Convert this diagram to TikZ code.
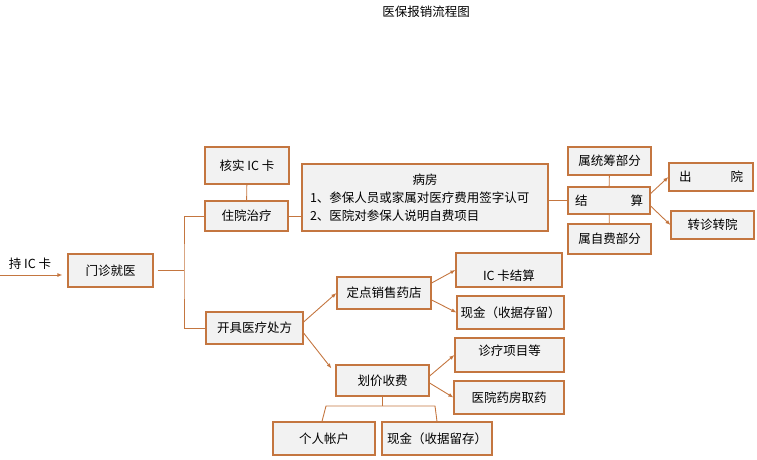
\documentclass[tikz,border=0pt]{standalone}
\usepackage{fontspec}
\setmainfont{Noto Sans CJK SC}
\usetikzlibrary{positioning}
\usetikzlibrary{arrows.meta}
\definecolor{laranja}{RGB}{196,118,64}
\definecolor{cinza}{RGB}{242,242,242}

\begin{document}
\begin{tikzpicture}[x=1pt,y=-1pt,font=\fontsize{12.5}{18}\selectfont,
    caixa/.style={draw=laranja,fill=cinza,line width=1.2pt,inner sep=0pt,align=center},
    linha/.style={draw=laranja,line width=0.9pt},
    seta/.style={linha,-{Latex[length=5pt,width=4pt]}}]
    \useasboundingbox (0,0) rectangle (757,460);
    \node (title) at (426,12) {医保报销流程图};

    % Entrada
    \coordinate (start) at (0,275);
    \node (holdcard) at (30,264) {持 IC 卡};
    \node [caixa, minimum width=85pt, minimum height=33pt] (clinic) at (110.5,270.5) {门诊就医};

    % Internamento
    \node [caixa, minimum width=84pt, minimum height=37pt] (verify) at (247,165.5) {核实 IC 卡};
    \node [caixa, minimum width=83pt, minimum height=30pt] (inpatient) at (246.5,216) {住院治疗};
    \node [caixa, minimum width=246pt, minimum height=67pt, text width=230pt, align=left] (ward) at (425,197.5)
        {\makebox[230pt]{病房}\\1、参保人员或家属对医疗费用签字认可\\2、医院对参保人说明自费项目};
    \node [caixa, minimum width=82pt, minimum height=27pt, text width=68pt, align=left] (settle) at (609,200.5) {结\hfill 算};
    \node [caixa, minimum width=83pt, minimum height=28pt] (pooled) at (609.5,161) {属统筹部分};
    \node [caixa, minimum width=83pt, minimum height=30pt] (selfpay) at (609.5,239) {属自费部分};
    \node [caixa, minimum width=84pt, minimum height=28pt, text width=64pt, align=left] (discharge) at (711,177) {出\hfill 院};
    \node [caixa, minimum width=83pt, minimum height=28pt] (transfer) at (712.5,225) {转诊转院};

    % Receita
    \node [caixa, minimum width=97pt, minimum height=32pt] (prescribe) at (254.5,328) {开具医疗处方};
    \node [caixa, minimum width=94pt, minimum height=32pt] (pharmacy) at (384,293) {定点销售药店};
    \node [caixa, minimum width=93pt, minimum height=31pt] (pricing) at (382.5,380.5) {划价收费};
    \node [caixa, minimum width=106pt, minimum height=34pt] (iccard) at (509,270) {\raisebox{-6pt}[\height][\depth]{IC 卡结算}};
    \node [caixa, minimum width=107pt, minimum height=33pt] (cashA) at (510.5,312.5) {现金（收据存留）};
    \node [caixa, minimum width=109pt, minimum height=34pt] (items) at (509.5,355) {\raisebox{4pt}[\height][\depth]{诊疗项目等}};
    \node [caixa, minimum width=110pt, minimum height=33pt] (dispensary) at (509,397.5) {医院药房取药};
    \node [caixa, minimum width=102pt, minimum height=33pt] (account) at (324,438.5) {个人帐户};
    \node [caixa, minimum width=110pt, minimum height=33pt] (cashB) at (437,438.5) {现金（收据留存）};

    % Conexoes
    \draw [seta, shorten >=5pt] (start) -- (start -| clinic.west);
    \coordinate (fork) at (184,270.5);
    \draw [linha, shorten <=4pt] (clinic.east) -- (fork);
    \draw [linha] (inpatient.west) -| (fork) |- (prescribe.west);
    \path [linha] (verify) edge (inpatient);
    \draw [linha] (inpatient.east) -- (inpatient.east -| ward.west);
    \draw [linha] (settle.west -| ward.east) -- (settle.west);
    \path [linha] (pooled) edge (settle);
    \path [linha] (settle) edge (selfpay);
    \draw [seta] ([yshift=7pt]settle.east) -- (discharge.west);
    \draw [seta] ([yshift=-5.5pt]settle.east) -- (transfer.west);

    \draw [seta] ([yshift=6pt]prescribe.east) -- (pharmacy.west);
    \draw [seta] ([yshift=-5pt]prescribe.east) -- ([xshift=-4pt,yshift=-4pt]pricing.north west);
    \draw [seta] ([yshift=10pt]pharmacy.east) -- (iccard.west);
    \draw [seta] ([yshift=-7pt]pharmacy.east) -- (cashA.west);
    \draw [seta] ([yshift=4.5pt]pricing.east) -- (items.west);
    \draw [seta] ([yshift=-2.5pt]pricing.east) -- (dispensary.west);

    \coordinate (split1) at (326,406);
    \coordinate (split2) at (435,406);
    \draw [linha] (pricing.south) -- (pricing.south |- split1);
    \draw [linha] ([xshift=-2pt]account.north) -- (split1) -- (split2) -- (cashB.north);
\end{tikzpicture}
\end{document}
